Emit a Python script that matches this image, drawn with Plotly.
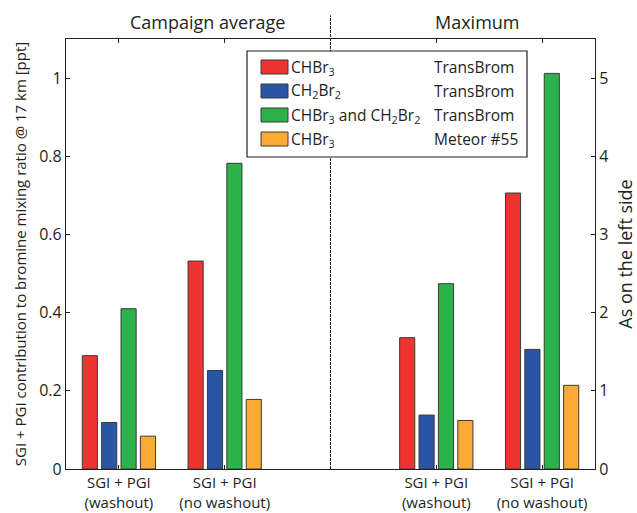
import plotly.graph_objects as go

# Group positions on the shared category axis
avg_pos = [1, 2]          # campaign average (left axis, ppt)
max_pos = [4, 5]          # maximum (right axis)
tick_pos = [1, 2, 4, 5]
tick_text = ["SGI + PGI<br>(washout)", "SGI + PGI<br>(no washout)",
             "SGI + PGI<br>(washout)", "SGI + PGI<br>(no washout)"]

series_names = ["CHBr<sub>3</sub>", "CH<sub>2</sub>Br<sub>2</sub>",
                "CHBr<sub>3</sub> and CH<sub>2</sub>Br<sub>2</sub>", "CHBr<sub>3</sub>"]
series_source = ["TransBrom", "TransBrom", "TransBrom", "Meteor #55"]
colors = ["#EE3430", "#2A55A4", "#2CB14B", "#FBAB34"]

# Campaign average values [washout, no washout]
avg_chbr3 = [0.29, 0.532]
avg_ch2br2 = [0.119, 0.252]
avg_both = [0.41, 0.782]
avg_meteor = [0.084, 0.178]

# Maximum values [washout, no washout]
max_chbr3 = [1.68, 3.53]
max_ch2br2 = [0.69, 1.53]
max_both = [2.37, 5.06]
max_meteor = [0.62, 1.07]

avg_vals = [avg_chbr3, avg_ch2br2, avg_both, avg_meteor]
max_vals = [max_chbr3, max_ch2br2, max_both, max_meteor]

FONT = "Open Sans"
INK = "#231F20"
W, H = 637, 513
ML, MR, MT, MB = 66, 42, 39, 44

fig = go.Figure()
for i in range(4):
    fig.add_trace(go.Bar(x=avg_pos, y=avg_vals[i], marker_color=colors[i],
                         marker_line=dict(color="#3a3a3a", width=1),
                         offsetgroup=str(i), showlegend=False,
                         xaxis="x", yaxis="y"))
for i in range(4):
    fig.add_trace(go.Bar(x=max_pos, y=max_vals[i], marker_color=colors[i],
                         marker_line=dict(color="#3a3a3a", width=1),
                         offsetgroup=str(i), showlegend=False,
                         xaxis="x", yaxis="y2"))

axis_common = dict(showline=True, linecolor=INK, linewidth=1.3,
                   ticks="inside", ticklen=4, tickcolor=INK,
                   showgrid=False, zeroline=False, automargin=False,
                   tickfont=dict(family=FONT, size=16, color=INK))

fig.update_layout(
    width=W, height=H,
    margin=dict(l=ML, r=MR, t=MT, b=MB, autoexpand=False),
    paper_bgcolor="white", plot_bgcolor="white",
    barmode="group", bargap=0.267, bargroupgap=0.22,
    font=dict(family=FONT, color=INK),
    xaxis=dict(range=[0.5, 5.5], tickvals=tick_pos, ticktext=tick_text,
               mirror="ticks", **{**axis_common,
                                  "tickfont": dict(family=FONT, size=15, color=INK)}),
    yaxis=dict(range=[0, 1.1], tickvals=[0, 0.2, 0.4, 0.6, 0.8, 1],
               ticktext=["0", "0.2", "0.4", "0.6", "0.8", "1"],
               title=dict(text="SGI + PGI contribution to bromine mixing ratio @ 17 km [ppt]",
                          font=dict(family=FONT, size=15, color=INK), standoff=8),
               **axis_common),
    yaxis2=dict(range=[0, 5.5], tickvals=[0, 1, 2, 3, 4, 5], overlaying="y", side="right",
                title=dict(text="As on the left side",
                           font=dict(family=FONT, size=18, color=INK), standoff=13),
                **axis_common),
)

# Divider between the two halves
fig.add_shape(type="line", xref="x", yref="paper", x0=3, x1=3, y0=0, y1=1.055,
              line=dict(color=INK, width=1, dash="3px,1px"))

pw, ph = W - ML - MR, H - MT - MB


def px(xp):
    return (xp - ML) / pw


def py(yp):
    return (H - yp - MB) / ph


# Panel headings
fig.add_annotation(text="Campaign average", xref="paper", yref="paper",
                   x=px(207), y=py(22), xanchor="center", yanchor="middle", showarrow=False,
                   font=dict(family=FONT, size=18, color=INK))
fig.add_annotation(text="Maximum", xref="paper", yref="paper",
                   x=px(477), y=py(22), xanchor="center", yanchor="middle", showarrow=False,
                   font=dict(family=FONT, size=18, color=INK))

# Two-column legend box
fig.add_shape(type="rect", xref="paper", yref="paper",
              x0=px(247), x1=px(527), y0=py(157), y1=py(51),
              line=dict(color=INK, width=1.2), fillcolor="white")
row_y = [67, 91, 115, 139]
for i in range(4):
    fig.add_shape(type="rect", xref="paper", yref="paper",
                  x0=px(261), x1=px(288), y0=py(row_y[i] + 7), y1=py(row_y[i] - 7),
                  line=dict(color="#3a3a3a", width=1), fillcolor=colors[i])
    fig.add_annotation(text=series_names[i], xref="paper", yref="paper",
                       x=px(289), y=py(row_y[i]), xanchor="left", yanchor="middle",
                       showarrow=False, font=dict(family=FONT, size=15.5, color=INK))
    fig.add_annotation(text=series_source[i], xref="paper", yref="paper",
                       x=px(432), y=py(row_y[i]), xanchor="left", yanchor="middle",
                       showarrow=False, font=dict(family=FONT, size=15.5, color=INK))

fig.write_html("out.html")
